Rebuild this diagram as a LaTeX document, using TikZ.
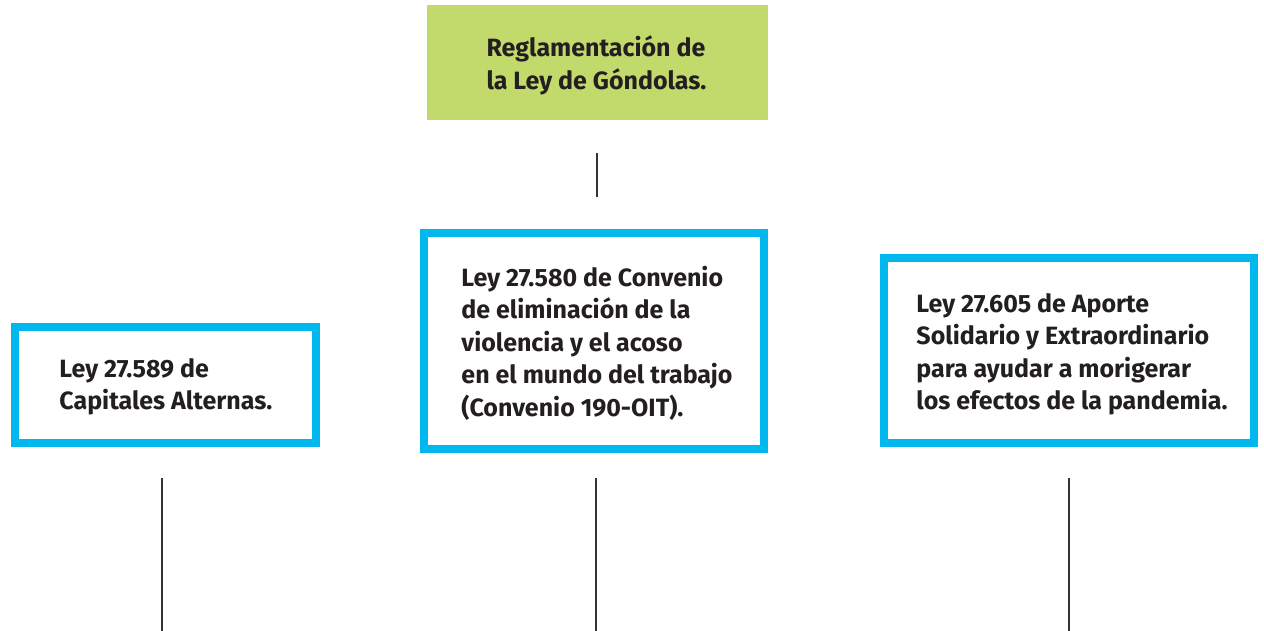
\documentclass[tikz,border=0pt]{standalone}
\usepackage{fontspec}
\setmainfont{Fira Sans}
\definecolor{boxblue}{HTML}{00B8EE}
\definecolor{boxgreen}{HTML}{C2D96B}
\definecolor{txt}{HTML}{231F20}
\definecolor{linegray}{HTML}{333333}
\tikzset{
  bluebox/.style={draw=boxblue, line width=7.5pt, fill=white, inner sep=0pt},
  greenbox/.style={fill=boxgreen, inner sep=0pt},
  label/.style={font=\fontsize{25}{32.5}\selectfont\bfseries, text=txt, align=left, inner sep=0pt},
  stem/.style={draw=linegray, line width=1.6pt}
}
\begin{document}
\begin{tikzpicture}[x=1pt,y=-1pt]
\useasboundingbox (0,0) rectangle (1264,631);
% green box
\node[greenbox, minimum width=341pt, minimum height=115pt] (g) at (597.5,62.5) {};
\node[label, font=\fontsize{25}{33}\selectfont\bfseries] (gt) at ([xshift=-1pt,yshift=-3pt]g.center) {Reglamentación de\\la Ley de Góndolas.};
% blue boxes
\node[bluebox, minimum width=301pt, minimum height=116pt] (b1) at (165.5,385) {};
\node[label, anchor=west] (t1) at ([xshift=48pt,yshift=-2pt]b1.west) {Ley 27.589 de\\Capitales Alternas.};
\node[bluebox, minimum width=340pt, minimum height=216pt] (b2) at (594,341) {};
\node[label, anchor=west] (t2) at ([xshift=41pt,yshift=-2pt]b2.west) {Ley 27.580 de Convenio\\de eliminación de la\\violencia y el acoso\\en el mundo del trabajo\\(Convenio 190-OIT).};
\node[bluebox, minimum width=370pt, minimum height=185pt] (b3) at (1069,350.5) {};
\node[label, anchor=west] (t3) at ([xshift=36pt,yshift=-4pt]b3.west) {Ley 27.605 de Aporte\\Solidario y Extraordinario\\para ayudar a morigerar\\los efectos de la pandemia.};
% stems
\coordinate (s0a) at (597,153); \coordinate (s0b) at (597,197);
\coordinate (s1a) at (162,478); \coordinate (s1b) at (162,631);
\coordinate (s2a) at (596,478); \coordinate (s2b) at (596,631);
\coordinate (s3a) at (1069,478); \coordinate (s3b) at (1069,631);
\draw[stem] (s0a) -- (s0b);
\draw[stem] (s1a) -- (s1b);
\draw[stem] (s2a) -- (s2b);
\draw[stem] (s3a) -- (s3b);
\end{tikzpicture}
\end{document}
